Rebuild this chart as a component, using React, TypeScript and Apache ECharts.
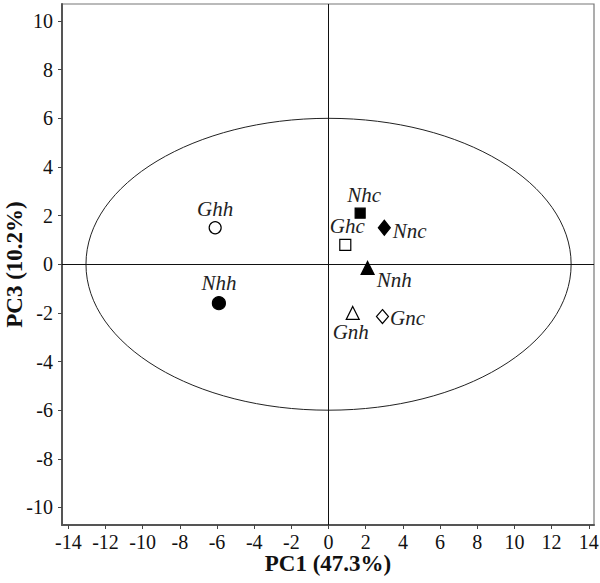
import React, { useEffect, useRef } from "react";
import * as echarts from "echarts";

const names = ["Ghh", "Nhh", "Nhc", "Ghc", "Nnc", "Nnh", "Gnh", "Gnc"];
const pc1 = [-6.1, -5.9, 1.7, 0.9, 3.0, 2.1, 1.3, 2.9];
const pc3 = [1.5, -1.6, 2.1, 0.8, 1.5, -0.15, -2.0, -2.15];
const xTicks = [-14, -12, -10, -8, -6, -4, -2, 0, 2, 4, 6, 8, 10, 12, 14];
const yTicks = [-10, -8, -6, -4, -2, 0, 2, 4, 6, 8, 10];
const ellipse = [[0, 0, 13.05, 6.0]];

const styles: Record<string, any> = {
  Ghh: { symbol: "circle", size: 12, filled: false, pos: "top", dist: 2, offset: [0, 0] },
  Nhh: { symbol: "circle", size: 13, filled: true, pos: "top", dist: 3, offset: [0, 0] },
  Nhc: { symbol: "rect", size: 10, filled: true, pos: "top", dist: 2, offset: [4, 0] },
  Ghc: { symbol: "rect", size: 11, filled: false, pos: "top", dist: 2, offset: [2, 0] },
  Nnc: { symbol: "diamond", size: [12, 15], filled: true, pos: "right", dist: 2, offset: [0, 3] },
  Nnh: { symbol: "triangle", size: 13, filled: true, pos: "right", dist: 2, offset: [0, 12] },
  Gnh: { symbol: "triangle", size: 13, filled: false, pos: "bottom", dist: 1, offset: [-2, 0] },
  Gnc: { symbol: "diamond", size: [12, 14], filled: false, pos: "right", dist: 1, offset: [0, 1] },
};

const FONT = "Liberation Serif";

export default function App() {
  const ref = useRef<HTMLDivElement>(null);
  useEffect(() => {
    const chart = echarts.init(ref.current!, null, { renderer: "svg" });
    const data = names.map((n, i) => {
      const s = styles[n];
      return {
        name: n,
        value: [pc1[i], pc3[i]],
        symbol: s.symbol,
        symbolSize: s.size,
        itemStyle: {
          color: s.filled ? "#000" : "#fff",
          borderColor: "#000",
          borderWidth: 1.2,
          opacity: 1,
        },
        label: {
          show: true,
          formatter: n,
          position: s.pos,
          distance: s.dist,
          offset: s.offset,
          fontFamily: FONT,
          fontStyle: "italic",
          fontSize: 21,
          color: "#222",
        },
      };
    });
    chart.setOption({
      animation: false,
      backgroundColor: "#fff",
      grid: {
        left: 62,
        right: 6,
        top: 4,
        bottom: 58,
        containLabel: false,
        outerBoundsMode: "none",
        show: true,
        borderColor: "#777",
        borderWidth: 1.2,
        backgroundColor: "transparent",
      },
      xAxis: {
        type: "value",
        min: -14.34,
        max: 14.28,
        name: "PC1 (47.3%)",
        nameLocation: "middle",
        nameGap: 27,
        nameMoveOverlap: false,
        nameTextStyle: { fontFamily: FONT, fontWeight: "bold", fontSize: 23, color: "#111" },
        splitLine: { show: false },
        axisLine: { show: true, onZero: false, lineStyle: { color: "#555", width: 2 } },
        axisTick: { show: true, length: 4, customValues: xTicks, lineStyle: { color: "#444" } },
        axisLabel: {
          customValues: xTicks,
          fontFamily: FONT,
          fontSize: 20,
          color: "#111",
          margin: 7,
        },
      },
      yAxis: {
        type: "value",
        min: -10.72,
        max: 10.7,
        name: "PC3 (10.2%)",
        nameLocation: "middle",
        nameGap: 36,
        nameMoveOverlap: false,
        nameTextStyle: { fontFamily: FONT, fontWeight: "bold", fontSize: 23, color: "#111" },
        splitLine: { show: false },
        axisLine: { show: true, onZero: false, lineStyle: { color: "#555", width: 2 } },
        axisTick: { show: true, length: 4, customValues: yTicks, lineStyle: { color: "#444" } },
        axisLabel: {
          customValues: yTicks,
          fontFamily: FONT,
          fontSize: 20,
          color: "#111",
          margin: 9,
        },
      },
      series: [
        {
          type: "custom",
          silent: true,
          data: ellipse,
          renderItem: (params: any, api: any) => {
            const c = api.coord([api.value(0), api.value(1)]);
            const p = api.coord([api.value(0) + api.value(2), api.value(1) + api.value(3)]);
            return {
              type: "ellipse",
              shape: { cx: c[0], cy: c[1], rx: Math.abs(p[0] - c[0]), ry: Math.abs(c[1] - p[1]) },
              style: { fill: "none", stroke: "#222", lineWidth: 1 },
            };
          },
          markLine: {
            silent: true,
            symbol: "none",
            label: { show: false },
            lineStyle: { color: "#111", width: 1, type: "solid" },
            data: [{ xAxis: 0 }, { yAxis: 0 }],
          },
          z: 1,
        },
        {
          type: "scatter",
          data,
          z: 5,
        },
      ],
    });
    return () => chart.dispose();
  }, []);
  return <div ref={ref} style={{ width: 600, height: 583, position: "absolute", left: 0, top: 0 }} />;
}
